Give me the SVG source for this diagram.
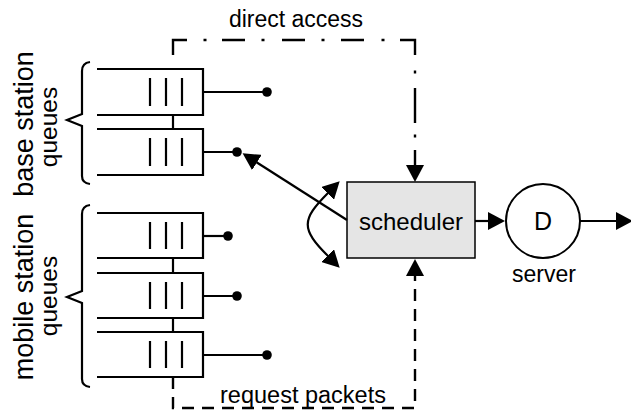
<svg xmlns="http://www.w3.org/2000/svg" width="631" height="411" viewBox="0 0 631 411">
<style>
.q{fill:none;stroke:#000;stroke-width:2.2}
.bar{stroke:#000;stroke-width:2.2}
.ln{fill:none;stroke:#000;stroke-width:2.2}
.dot{fill:#000}
.t{font-family:"Liberation Sans",Arial,sans-serif;fill:#000;text-anchor:middle}
.dd{fill:none;stroke:#000;stroke-width:2.4}
.dash{fill:none;stroke:#000;stroke-width:2.4;stroke-dasharray:12 8}
</style>
<defs>
<marker id="arr" viewBox="0 0 17 18" markerWidth="17" markerHeight="18" refX="0.5" refY="9" orient="auto-start-reverse" markerUnits="userSpaceOnUse">
<path d="M0,0 L17,9 L0,18 z" fill="#000" stroke="none"/>
</marker>
</defs>
<rect width="631" height="411" fill="#fff"/>

<text class="t" x="296" y="27" font-size="23">direct access</text>
<text class="t" x="303" y="403" font-size="23.5">request packets</text>

<g id="label-base">
<text class="t" font-size="27" transform="translate(33,124) rotate(-90)">base station</text>
<text class="t" font-size="24.5" transform="translate(57,127) rotate(-90)">queues</text>
<path class="ln" d="M90,62 Q82,63 82,71 L82,114 L67,120 L82,126 L82,176 Q82,183 90,184"/>
</g>
<g id="label-mobile">
<text class="t" font-size="27" transform="translate(33,297) rotate(-90)">mobile station</text>
<text class="t" font-size="24.5" transform="translate(57,296) rotate(-90)">queues</text>
<path class="ln" d="M90,205 Q82,206 82,214 L82,291 L67,297 L82,303 L82,379 Q82,386 90,387"/>
</g>

<g id="q1">
<path class="q" d="M97,69 H203 V115 H97"/>
<path class="bar" d="M150,78 V106 M166,78 V106 M182,78 V106"/>
<path class="ln" d="M203,92 H267"/><circle class="dot" cx="267" cy="92" r="4.8"/>
</g>
<g id="q2">
<path class="q" d="M97,129 H203 V175 H97"/>
<path class="bar" d="M150,138 V166 M166,138 V166 M182,138 V166"/>
<path class="ln" d="M203,152 H237"/><circle class="dot" cx="237" cy="152" r="4.8"/>
</g>
<g id="q3">
<path class="q" d="M97,213 H203 V258 H97"/>
<path class="bar" d="M150,222 V249 M166,222 V249 M182,222 V249"/>
<path class="ln" d="M203,236 H228"/><circle class="dot" cx="228" cy="236" r="4.8"/>
</g>
<g id="q4">
<path class="q" d="M97,273 H203 V318 H97"/>
<path class="bar" d="M150,282 V309 M166,282 V309 M182,282 V309"/>
<path class="ln" d="M203,296 H237"/><circle class="dot" cx="237" cy="296" r="4.8"/>
</g>
<g id="q5">
<path class="q" d="M97,332 H203 V377 H97"/>
<path class="bar" d="M150,341 V368 M166,341 V368 M182,341 V368"/>
<path class="ln" d="M203,355 H267"/><circle class="dot" cx="267" cy="355" r="4.8"/>
</g>

<g id="scheduler">
<rect x="347" y="182" width="128" height="76" fill="#e5e5e5" stroke="#000" stroke-width="1.5"/>
<text class="t" x="411" y="230" font-size="24">scheduler</text>
</g>
<g id="server">
<circle cx="543" cy="221" r="37" fill="#fff" stroke="#000" stroke-width="2"/>
<text class="t" x="543" y="230" font-size="25">D</text>
<text class="t" x="544" y="282" font-size="23">server</text>
</g>

<g id="connectors">
<path class="ln" d="M173,115 V129 M173,258 V273 M173,318 V332"/>
<path class="dd" d="M173,55 V40 H187 M203.5,40 H206.5 M222,40 H245 M261.5,40 H264.5 M282,40 H305 M321.5,40 H324.5 M341,40 H364 M381.5,40 H384.5 M400,40 H415 V55 M415,70.5 V73.5 M415,88 V123 M415,134.5 V137.5 M415,150 V166"/>
<path d="M415,165 V165.5" fill="none" stroke="none" marker-end="url(#arr)"/>
<path class="dash" d="M173,377 V408 H415 V276"/>
<path d="M415,276 V275.5" fill="none" stroke="none" marker-end="url(#arr)"/>
<path class="ln" d="M475,221 H488.5" marker-end="url(#arr)"/>
<path class="ln" d="M580,221 H616.5" marker-end="url(#arr)"/>
<path class="ln" d="M347,220 L256.5,162.2" marker-end="url(#arr)"/>
<path class="ln" d="M328,193 C301,220 301,229 328,256" marker-start="url(#arr)" marker-end="url(#arr)"/>
</g>
</svg>
